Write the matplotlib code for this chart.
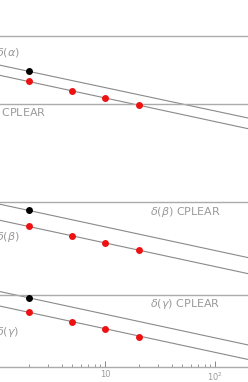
import matplotlib.pyplot as plt
from matplotlib.ticker import LogLocator, NullFormatter

# sensitivity points (x = 2, 5, 10, 20)
x_pts = [2, 5, 10, 20]
alpha_red = [8.2e-17, 5.14e-17, 3.71e-17, 2.56e-17]
beta_red = [7.05e-20, 4.34e-20, 3.13e-20, 2.27e-20]
gamma_red = [1.08e-21, 6.83e-22, 4.78e-22, 3.19e-22]

x_black = [2]
alpha_black = [1.40e-16]
beta_black = [1.54e-19]
gamma_black = [2.19e-21]

# CPLEAR bounds
cplear = [2.8e-17, 2.3e-19, 2.5e-21]

# straight lines (end values)
x_line = [1, 200]
alpha_upper = [1.9e-16, 1.38e-17]
alpha_lower = [1.16e-16, 8.2e-18]
beta_upper = [2.18e-19, 1.54e-20]
beta_lower = [9.97e-20, 7.05e-21]
gamma_upper = [3.1e-21, 2.19e-22]
gamma_lower = [1.53e-21, 1.08e-22]

grey = '#8a8a8a'
light = '#ababab'
txt = '#9a9a9a'

fig = plt.figure(figsize=(2.48, 3.82), dpi=100)
ax = fig.add_axes([0, 15 / 382, 1, 331 / 382])
ax.set_xscale('log')
ax.set_yscale('log')

for up, lo in [(alpha_upper, alpha_lower), (beta_upper, beta_lower), (gamma_upper, gamma_lower)]:
    ax.plot(x_line, up, color=grey, lw=0.8)
    ax.plot(x_line, lo, color=grey, lw=0.8)

for c in cplear:
    ax.axhline(c, color=light, lw=1.0)

for red in [alpha_red, beta_red, gamma_red]:
    ax.plot(x_pts, red, 'o', color='#ee1111', ms=5, mec='none')
for blk in [alpha_black, beta_black, gamma_black]:
    ax.plot(x_black, blk, 'o', color='black', ms=5, mec='none')

ax.set_xlim(1.1, 198)
ax.set_ylim(10 ** -22.124, 10 ** -15.124)

fs = 8
ax.text(1.68, 3.43e-16, r'$\delta(\alpha)$', color=txt, fontsize=fs, ha='right', va='center')
ax.text(2.89, 1.85e-17, r'$\delta(\alpha)$ CPLEAR', color=txt, fontsize=fs, ha='right', va='center')
ax.text(1.66, 4.19e-20, r'$\delta(\beta)$', color=txt, fontsize=fs, ha='right', va='center')
ax.text(25.5, 1.41e-19, r'$\delta(\beta)$ CPLEAR', color=txt, fontsize=fs, ha='left', va='center')
ax.text(1.66, 4.19e-22, r'$\delta(\gamma)$', color=txt, fontsize=fs, ha='right', va='center')
ax.text(25.5, 1.61e-21, r'$\delta(\gamma)$ CPLEAR', color=txt, fontsize=fs, ha='left', va='center')

ax.spines['left'].set_visible(False)
ax.spines['right'].set_visible(False)
ax.spines['top'].set_color(light)
ax.spines['bottom'].set_color(light)
ax.spines['top'].set_linewidth(1.0)
ax.spines['bottom'].set_linewidth(1.0)

ax.set_xticks([10, 100])
ax.set_xticklabels(['10', r'$10^2$'])
ax.xaxis.set_minor_locator(LogLocator(base=10, subs=range(2, 10)))
ax.xaxis.set_minor_formatter(NullFormatter())
ax.tick_params(axis='x', which='major', direction='in', length=4.5, width=0.7, color=grey,
               labelsize=6, labelcolor=txt, pad=2.5)
ax.tick_params(axis='x', which='minor', direction='in', length=2, width=0.6, color=grey)
ax.tick_params(axis='y', which='both', left=False, labelleft=False)

fig.savefig('out.png', dpi=100)
